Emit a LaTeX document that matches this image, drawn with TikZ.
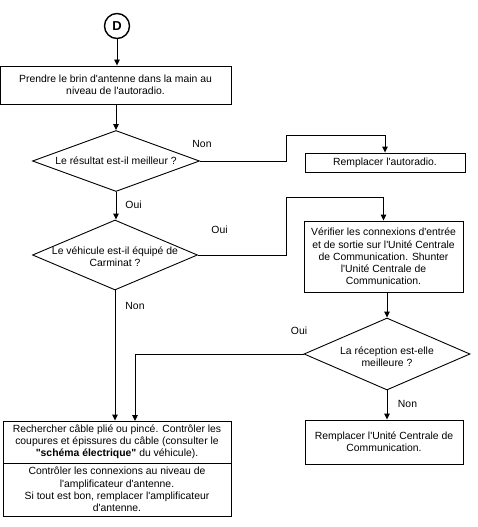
\documentclass[tikz,border=0pt]{standalone}
\usepackage{fontspec}
\newfontfamily\arialfont{Liberation Sans}
\usetikzlibrary{shapes.geometric,arrows.meta}

\tikzset{
    box/.style={draw, line width=0.9pt, inner sep=0pt, align=center},
    choice/.style={draw, diamond, line width=0.9pt, inner sep=0pt},
    link/.style={line width=0.9pt, -{Triangle[width=5.5pt,length=6pt]}},
    answer/.style={inner sep=0pt}
}

\begin{document}
\begin{tikzpicture}[x=1pt, y=-1pt, font=\arialfont\fontsize{10.4}{12.2}\selectfont]
            \useasboundingbox (0,0) rectangle (477,527);
            \node[draw, circle, line width=1.4pt, minimum size=25pt, inner sep=0pt,
                font=\arialfont\bfseries\fontsize{13}{13}\selectfont] (start) at (117,26) {D};
            \node[box, minimum width=231pt, minimum height=38pt] (brin) at (115.5,85)
                {Prendre le brin d'antenne dans la main au\\niveau de l'autoradio.};
            \node[choice, minimum width=167pt, minimum height=61pt,
                label={center:Le résultat est-il meilleur ?}] (result) at (116,161) {};
            \node[box, minimum width=160pt, minimum height=19pt] (autoradio) at (385,162.5)
                {Remplacer l'autoradio.};
            \node[choice, minimum width=165pt, minimum height=70pt,
                label={[align=center, yshift=-2pt]center:Le véhicule est-il équipé de\\Carminat ?}] (carminat) at (115,255) {};
            \node[box, minimum width=159pt, minimum height=71pt] (verif) at (383.5,256.5)
                {Vérifier les connexions d'entrée\\et de sortie sur l'Unité Centrale\\de Communication. Shunter\\l'Unité Centrale de\\Communication.};
            \node[choice, minimum width=166pt, minimum height=72pt,
                label={[align=center, yshift=-3pt]center:La réception est-elle\\meilleure ?}] (reception) at (387,354) {};
            \node[box, minimum width=158pt, minimum height=44pt] (ucc) at (384,442)
                {Remplacer l'Unité Centrale de\\Communication.};
            \node[box, minimum width=228pt, minimum height=42pt] (cable) at (117,442)
                {Rechercher câble plié ou pincé. Contrôler les\\coupures et épissures du câble (consulter le\\\textbf{"schéma électrique"} du véhicule).};
            \node[box, minimum width=228pt, minimum height=53pt] (ampli) at (117,489.5)
                {Contrôler les connexions au niveau de\\l'amplificateur d'antenne.\\Si tout est bon, remplacer l'amplificateur\\d'antenne.};

            \coordinate (bend1) at (286,135);
            \coordinate (bend2) at (286,197);
            \coordinate (cablein) at (135,421);

            \draw[link] (start.south) -- (start.south |- brin.north);
            \draw[link] (brin.south -| result.north) -- (result.north);
            \draw[link] (result.east) -| (bend1) -| (autoradio.north);
            \draw[link] (result.south) -- (result.south |- carminat.north);
            \draw[link] (carminat.east) -| (bend2) -| (verif.north);
            \draw[link] (carminat.south) -- (carminat.south |- cable.north);
            \draw[link] (verif.south -| reception.north) -- (reception.north);
            \draw[link] (reception.west) -| (cablein);
            \draw[link] (reception.south) -- (reception.south |- ucc.north);

            \node[answer] (non1) at (202,144) {Non};
            \node[answer] (oui1) at (133.5,205) {Oui};
            \node[answer] (oui2) at (219.5,230) {Oui};
            \node[answer] (non2) at (135,306) {Non};
            \node[answer] (oui3) at (299,331) {Oui};
            \node[answer] (non3) at (407.5,404) {Non};
        \end{tikzpicture}
\end{document}
